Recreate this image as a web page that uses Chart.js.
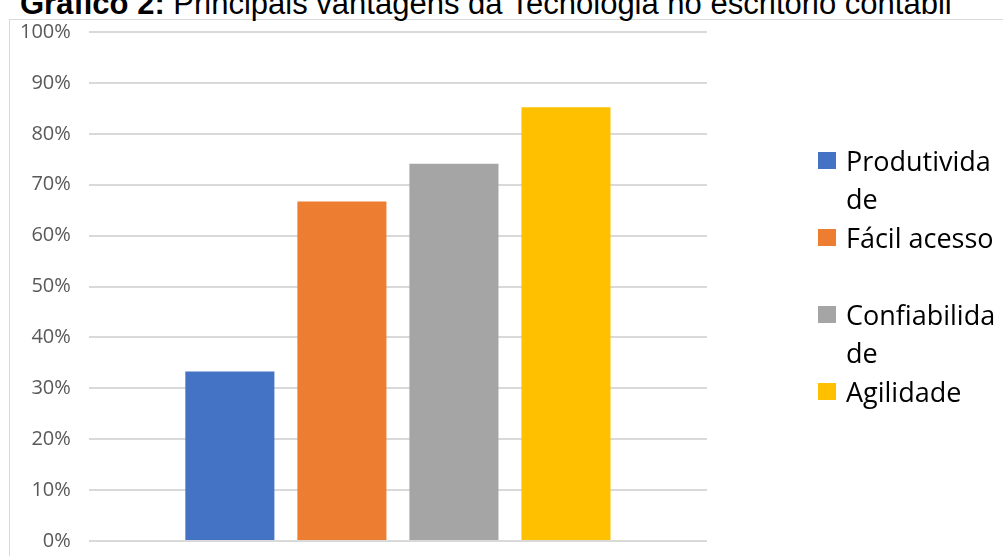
<!DOCTYPE html>
<html><head><meta charset="utf-8">
<script src="https://cdn.jsdelivr.net/npm/chart.js@4/dist/chart.umd.min.js"></script>
<style>
html,body{margin:0;padding:0;background:#fff;overflow:hidden;}
#wrap{position:relative;width:1003px;height:556px;}
#title{position:absolute;left:20px;top:-12px;font-family:"Liberation Sans",Arial,sans-serif;font-size:31px;color:#000;white-space:nowrap;line-height:31px;}
#box{position:absolute;left:9px;top:19px;width:1100px;height:600px;border:1px solid #d9d9d9;box-sizing:border-box;}
#cv{position:absolute;left:0;top:0;}
#legend{position:absolute;left:818px;top:142px;font-family:"Open Sans",sans-serif;font-size:27px;color:#000;}
.li{position:relative;height:77px;padding-left:28px;width:160px;line-height:38px;}
.sw{position:absolute;left:0;top:10px;width:18px;height:17px;}
</style></head><body>
<div id="wrap">
<div id="box"></div>
<div id="title"><b>Gráfico 2:</b> Principais vantagens da Tecnologia no escritório contábil</div>
<canvas id="cv" width="1003" height="556"></canvas>
<div id="legend"></div>
</div>
<script>
const categories = [""];
const seriesNames = ["Produtividade", "Fácil acesso", "Confiabilidade", "Agilidade"];
const seriesValues = [33.3, 66.7, 74.1, 85.2];
const seriesColors = ["#4472C4", "#ED7D31", "#A5A5A5", "#FFC000"];
const legendLines = [["Produtivida", "de"], ["Fácil acesso"], ["Confiabilida", "de"], ["Agilidade"]];

const datasets = seriesNames.map((n, i) => ({
  label: n,
  data: [seriesValues[i]],
  backgroundColor: seriesColors[i],
  borderWidth: 0,
  categoryPercentage: 0.725,
  barPercentage: 0.795
}));

const chart = new Chart(document.getElementById('cv'), {
  type: 'bar',
  data: { labels: categories, datasets },
  options: {
    responsive: false,
    animation: false,
    layout: { padding: { left: 2, top: 32, right: 296, bottom: 15 } },
    plugins: { legend: { display: false }, title: { display: false }, tooltip: { enabled: false } },
    scales: {
      x: {
        display: false,
        grid: { display: false }
      },
      y: {
        min: 0, max: 100,
        afterFit: s => { s.paddingTop = 0; s.paddingBottom = 0; },
        ticks: { stepSize: 10, callback: v => v + '%', color: '#595959', padding: 18,
          font: { family: 'Open Sans', size: 20 } },
        grid: { color: '#d9d9d9', lineWidth: 2, drawTicks: false },
        border: { display: false }
      }
    }
  }
});

const lg = document.getElementById('legend');
seriesNames.forEach((n, i) => {
  const d = document.createElement('div');
  d.className = 'li';
  d.innerHTML = '<span class="sw" style="background:' + seriesColors[i] + '"></span>' + legendLines[i].join('<br>');
  lg.appendChild(d);
});
</script>
</body></html>
